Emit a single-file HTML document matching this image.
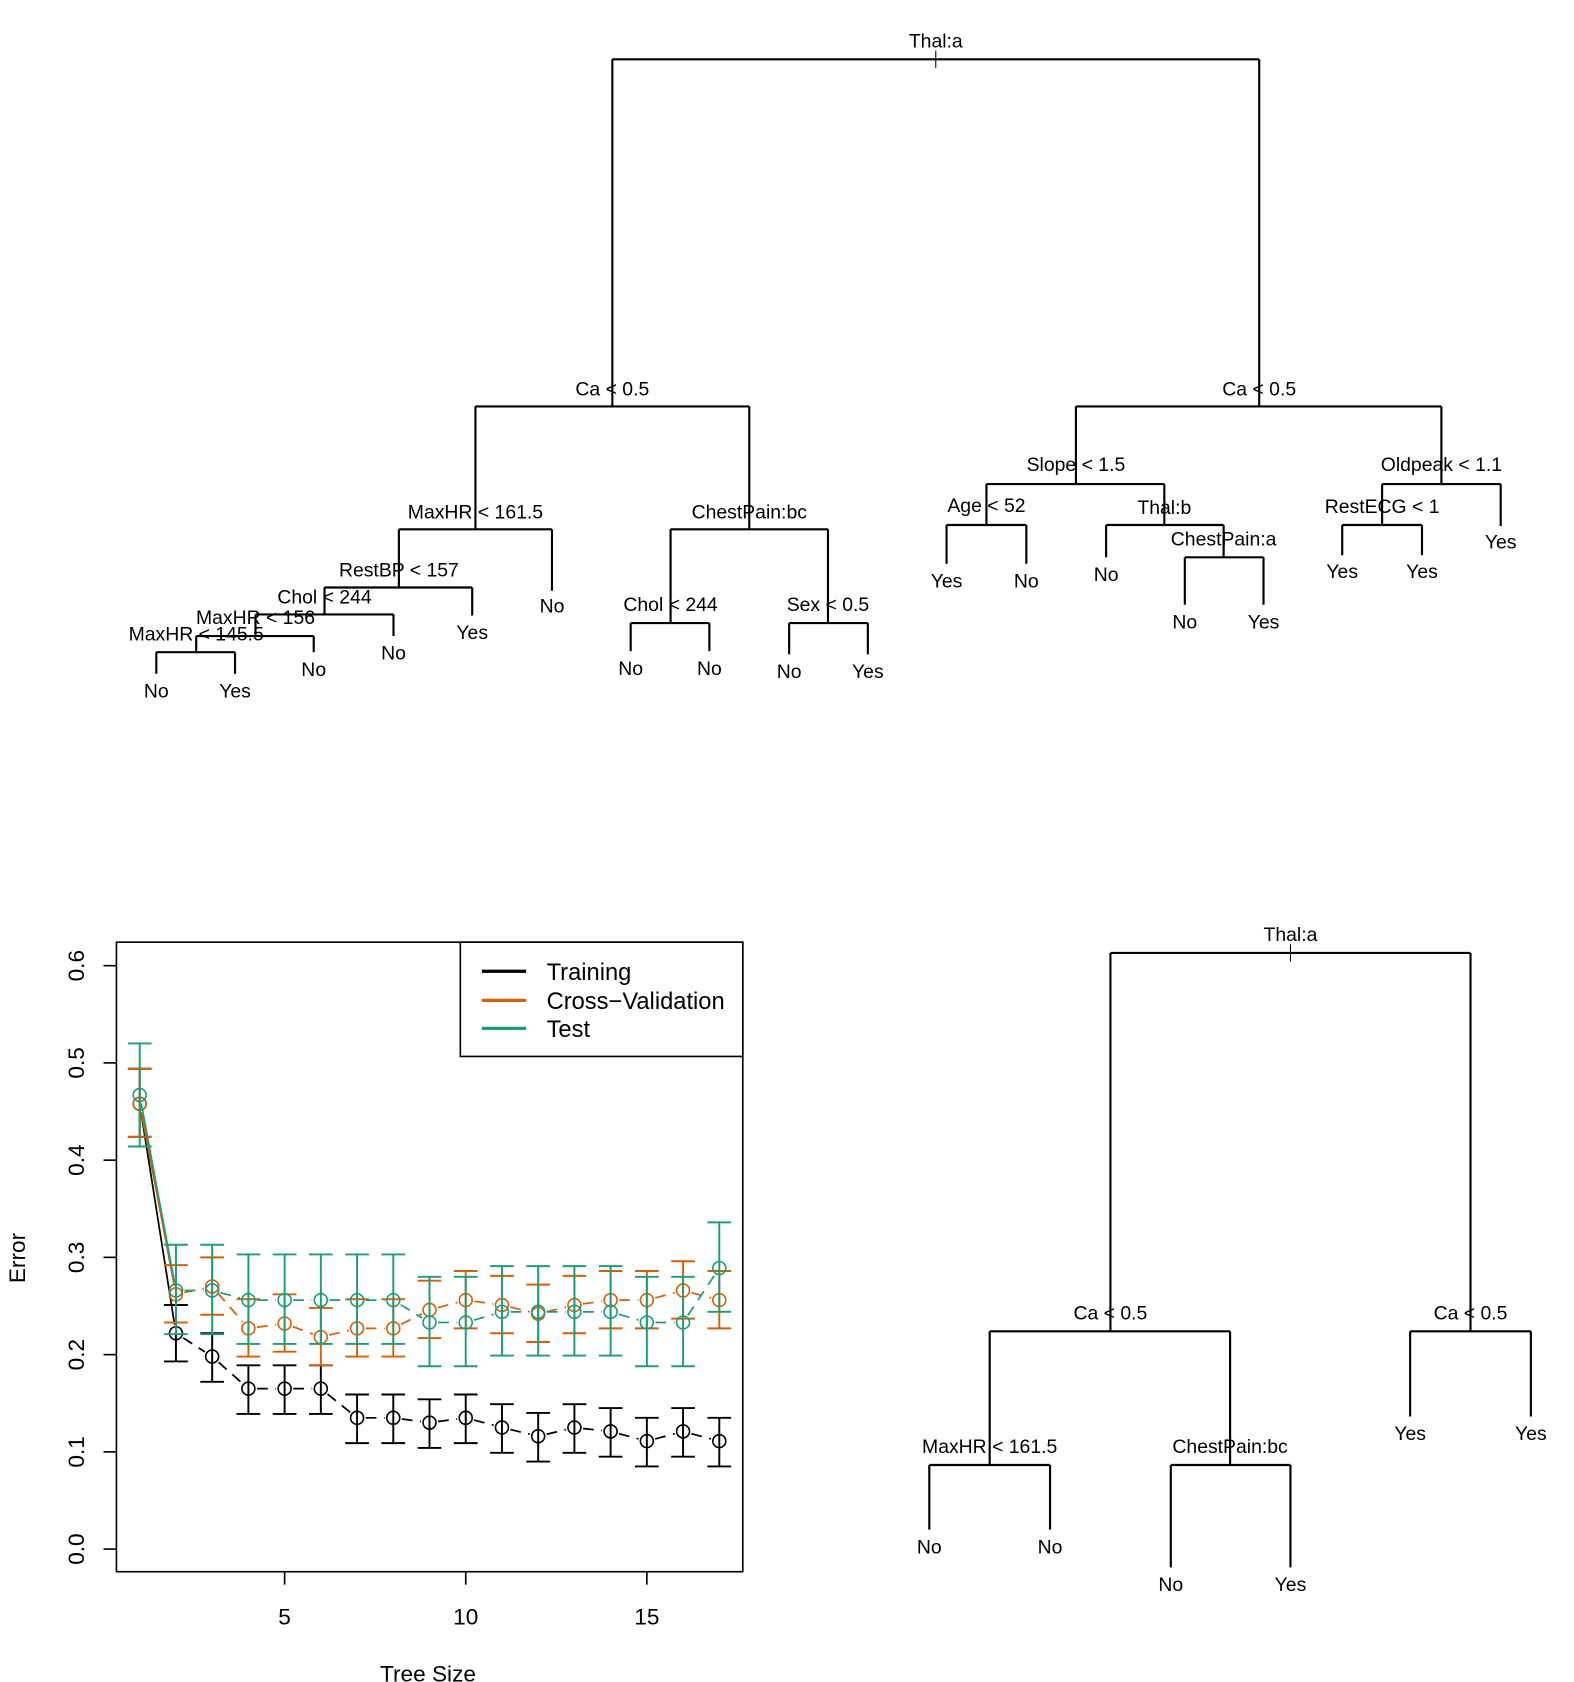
<!DOCTYPE html>
<html><head><meta charset="utf-8"><style>
html,body{margin:0;padding:0;background:#fff;}
svg{display:block;}
text{font-family:"Liberation Sans",sans-serif;}
</style></head><body>
<svg id="s" width="1574" height="1682" viewBox="0 0 1460 1560.3" preserveAspectRatio="none" xmlns="http://www.w3.org/2000/svg">
<g id="g" fill="none" stroke="#000" stroke-width="2"></g>
</svg>
<script>
var g=document.getElementById('g'),out='';
function L(x1,y1,x2,y2,c,w,d){out+='<line x1="'+x1+'" y1="'+y1+'" x2="'+x2+'" y2="'+y2+'" stroke="'+(c||'#000')+'" stroke-width="'+(w||2)+'"'+(d?' stroke-dasharray="'+d+'"':'')+'/>';}
function T(x,y,s,fs,extra){out+='<text x="'+x+'" y="'+y+'" font-size="'+(fs||18)+'" fill="#000" stroke="none" text-anchor="middle" '+(extra||'')+'>'+s+'</text>';}
function N(x,ly,hy,xl,xr,yl,yr,lab){T(x,ly+6,lab);L(xl,hy,xr,hy);L(xl,hy,xl,yl);L(xr,hy,xr,yr);}
function leaf(x,y,s){T(x,y+6,s);}
N(868,38,55,568,1168,377,377,'Thal:a');L(868,47,868,63,'#000',1);
N(568,361,377,441,695,491,491,'Ca &lt; 0.5');
N(441,475,491,370,512,545,548,'MaxHR &lt; 161.5');leaf(512,562,'No');
N(370,529,545,301,438,570,571,'RestBP &lt; 157');leaf(438,587,'Yes');
N(301,554,570,237,365,590,590,'Chol &lt; 244');leaf(365,606,'No');
N(237,573,590,182,291,605,605,'MaxHR &lt; 156');leaf(291,621,'No');
N(182,588,605,145,218,625,625,'MaxHR &lt; 145.5');leaf(145,641,'No');leaf(218,641,'Yes');
N(695,475,491,622,768,578,578,'ChestPain:bc');
N(622,561,578,585,658,604,604,'Chol &lt; 244');leaf(585,620,'No');leaf(658,620,'No');
N(768,561,578,732,805,607,607,'Sex &lt; 0.5');leaf(732,623,'No');leaf(805,623,'Yes');
N(1168,361,377,998,1337,449,449,'Ca &lt; 0.5');
N(998,431,449,915,1080,487,487,'Slope &lt; 1.5');
N(915,469,487,878,952,523,523,'Age &lt; 52');leaf(878,539,'Yes');leaf(952,539,'No');
N(1080,471,487,1026,1135,517,517,'Thal:b');leaf(1026,533,'No');
N(1135,500,517,1099,1172,561,561,'ChestPain:a');leaf(1099,577,'No');leaf(1172,577,'Yes');
N(1337,431,449,1282,1392,487,488,'Oldpeak &lt; 1.1');leaf(1392,503,'Yes');
N(1282,470,487,1245,1319,515,515,'RestECG &lt; 1');leaf(1245,530,'Yes');leaf(1319,530,'Yes');
N(1197,867,884,1030,1364,1235,1235,'Thal:a');L(1197,876,1197,892,'#000',1);
N(1030,1218,1235,918,1141,1359,1359,'Ca &lt; 0.5');
N(918,1342,1359,862,974,1419,1419,'MaxHR &lt; 161.5');leaf(862,1435,'No');leaf(974,1435,'No');
N(1141,1342,1359,1086,1197,1454,1454,'ChestPain:bc');leaf(1086,1470,'No');leaf(1197,1470,'Yes');
N(1364,1218,1235,1308,1420,1314,1314,'Ca &lt; 0.5');leaf(1308,1330,'Yes');leaf(1420,1330,'Yes');
function X(v){return 129.6+(v-1)*33.6;}
function Y(v){return 1437-v*902;}
out+='<rect x="108" y="874" width="581" height="584" stroke="#000" stroke-width="1.5" fill="none"/>';
for(var i=0;i<=6;i++){var y=Y(i/10);L(96,y,108,y,'#000',1.5);out+='<text x="78" y="'+y+'" font-size="21" fill="#000" stroke="none" text-anchor="middle" transform="rotate(-90 78 '+y+')">'+(i/10).toFixed(1)+'</text>';}
[5,10,15].forEach(function(v){L(X(v),1458,X(v),1470,'#000',1.5);T(X(v),1507,v,21);});
T(397,1560,'Tree Size',21);
out+='<text x="23" y="1167" font-size="21" fill="#000" stroke="none" text-anchor="middle" transform="rotate(-90 23 1167)">Error</text>';
var tr=[.458,.222,.198,.165,.165,.165,.135,.135,.130,.135,.125,.116,.125,.121,.111,.121,.111];
var cv=[.458,.262,.270,.227,.232,.218,.227,.227,.246,.256,.251,.242,.251,.256,.256,.266,.256];
var te=[.467,.266,.266,.256,.256,.256,.256,.256,.233,.233,.244,.244,.244,.244,.233,.233,.289];
function series(d,c,lo,hi){
 for(var i=0;i<d.length;i++){
  var x=X(i+1);L(x,Y(d[i]-lo[i]),x,Y(d[i]+hi[i]),c,1.8);
  L(x-11,Y(d[i]-lo[i]),x+11,Y(d[i]-lo[i]),c,1.8);L(x-11,Y(d[i]+hi[i]),x+11,Y(d[i]+hi[i]),c,1.8);
  out+='<circle cx="'+x+'" cy="'+Y(d[i])+'" r="6" stroke="'+c+'" stroke-width="1.5" fill="none"/>';
  if(i<d.length-1){var x1=x,y1=Y(d[i]),x2=X(i+2),y2=Y(d[i+1]),dx=x2-x1,dy=y2-y1,l=Math.sqrt(dx*dx+dy*dy),r=8;
   L(x1+dx*r/l,y1+dy*r/l,x2-dx*r/l,y2-dy*r/l,c,1.6,i==0?null:'10,7');}
 }
}
function arr(a,n){var r=[];for(var i=0;i<17;i++)r.push(a[i]!=null?a[i]:n);return r;}
series(tr,'#000',arr([0.034,0.029],0.026),arr([0.036,0.029],0.024));
series(cv,'#D95F02',arr([0.034],0.029),arr([0.036],0.03));
series(te,'#1B9E77',arr([0.053],0.045),arr([0.053],0.047));
out+='<rect x="427" y="874" width="262" height="106" stroke="#000" stroke-width="1.5" fill="#fff"/>';
[['Training','#000',901],['Cross\u2212Validation','#D95F02',928],['Test','#1B9E77',954]].forEach(function(a){L(447,a[2],488,a[2],a[1],3);out+='<text x="507" y="'+(a[2]+8)+'" font-size="22" fill="#000" stroke="none">'+a[0]+'</text>';});
g.innerHTML=out;
</script>
</body></html>
